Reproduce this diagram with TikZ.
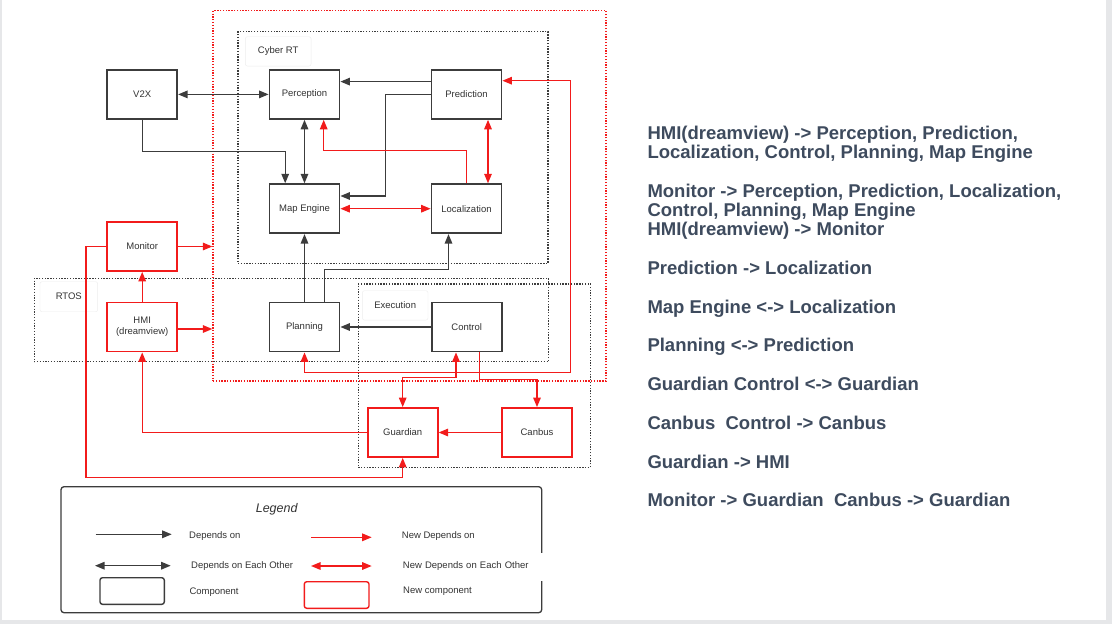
\documentclass[tikz,border=0pt]{standalone}
\usepackage{fontspec}
\setmainfont{Liberation Sans}
\usetikzlibrary{arrows.meta,calc}
\definecolor{lk}{HTML}{3C3C3C}
\definecolor{rd}{HTML}{F21B1B}
\definecolor{tx}{HTML}{333333}
\definecolor{sidec}{HTML}{3E4B5E}
\definecolor{bgg}{HTML}{E6E7E9}
\begin{document}
\begin{tikzpicture}[x=1pt,y=-1pt,
 comp/.style={draw=lk, line width=1.8pt, fill=white, minimum width=70pt, minimum height=49pt, inner sep=0pt, text=tx, font=\fontsize{9.5}{11.4}\selectfont, align=center},
 rcomp/.style={comp, draw=rd},
 arr/.style={draw=lk, line width=1.4pt, -{Triangle[length=9.5pt,width=7.5pt]}},
 barr/.style={draw=lk, line width=1.4pt, {Triangle[length=9.5pt,width=7.5pt]}-{Triangle[length=9.5pt,width=7.5pt]}},
 rarr/.style={arr, draw=rd},
 rbarr/.style={barr, draw=rd},
 kdot/.style={draw=lk, line width=1.2pt, dash pattern=on 1.3pt off 1.5pt, inner sep=0pt},
 rdot/.style={draw=rd, line width=1.3pt, dash pattern=on 1.3pt off 1.5pt, inner sep=0pt},
 tagbox/.style={draw=black!7, rounded corners=2pt, fill=white, text=tx, font=\fontsize{9.5}{11}\selectfont, inner sep=0pt},
 sidetext/.style={anchor=base west, text=sidec, font=\fontsize{18.5}{19}\selectfont\bfseries, inner sep=0pt},
 leg/.style={anchor=west, text=tx, font=\fontsize{9.5}{11}\selectfont, inner sep=0pt},
]
% background
\fill[bgg] (0,0) rectangle (1112,624);
\fill[white] (1.5,0) rectangle (1106,620);
\useasboundingbox (0,0) rectangle (1112,624);

% group boxes
\node[rdot, minimum width=393pt, minimum height=370.3pt] (core) at (409.5,195.85) {};
\node[kdot, minimum width=310pt, minimum height=231.6pt] (cyber) at (393,147.5) {};
\node[kdot, minimum width=514.4pt, minimum height=83.4pt] (rtos) at (291.3,320) {};
\node[kdot, minimum width=232.3pt, minimum height=183.3pt] (exec) at (474.35,375.65) {};

\node[tagbox, minimum width=65.7pt, minimum height=29.3pt] (tcyber) at (278.2,51.4) {Cyber RT};
\node[tagbox, minimum width=57.7pt, minimum height=30pt] (trtos) at (68.8,296.7) {RTOS};
\node[tagbox, minimum width=65.6pt, minimum height=29.3pt] (texec) at (395.2,305.4) {Execution};

% components
\node[comp] (V2X) at (142.2,94.4) {V2X};
\node[comp] (Perception) at (304.5,94.4) {Perception};
\node[comp] (Prediction) at (466.5,94.4) {Prediction};
\node[comp] (MapEngine) at (304.5,208.7) {Map Engine};
\node[comp] (Localization) at (466.5,208.7) {Localization};
\node[rcomp] (Monitor) at (142.2,246.5) {Monitor};
\node[rcomp] (HMI) at (142.2,327) {HMI\\(dreamview)};
\node[comp] (Planning) at (304.5,327) {Planning};
\node[comp] (Control) at (466.7,327) {Control};
\node[rcomp] (Guardian) at (402.7,432.5) {Guardian};
\node[rcomp] (Canbus) at (537,432.5) {Canbus};

% black connectors
\draw[barr] (V2X.east) -- (Perception.west);
\draw[arr] (V2X.south) |- (285.2,151.7) -- ([xshift=-19.3pt]MapEngine.north);
\draw[barr] (Perception.south) -- (MapEngine.north);
\draw[arr] ([yshift=12.8pt]Prediction.west) -- ([yshift=12.8pt]Perception.east);
\draw[arr] (Prediction.west) -| (385.3,196) -- ([yshift=12.7pt]MapEngine.east);
\draw[arr] (Planning.north) -- (MapEngine.south);
\draw[arr] ([xshift=20pt]Planning.north) |- (448.5,269.3) -- ([xshift=-18pt]Localization.south);
\draw[arr] (Control.west) -- (Planning.east);

% red connectors
\draw[rarr] (Localization.north) |- (323.7,150.7) -- ([xshift=19.2pt]Perception.south);
\draw[rbarr] ([xshift=21.5pt]Prediction.south) -- ([xshift=21.5pt]Localization.north);
\draw[rbarr] (MapEngine.east) -- (Localization.west);
\draw[rbarr] ([yshift=13.7pt]Prediction.east) -| (570.5,372.7) -| (Planning.south);
\draw[rbarr] ([xshift=-10.7pt]Control.south) |- (402.7,377.3) -- (Guardian.north);
\draw[rarr] ([xshift=13pt]Control.south) |- (537,379.5) -- (Canbus.north);
\draw[rarr] (Canbus.west) -- (Guardian.east);
\draw[rarr] (Guardian.west) -| (HMI.south);
\draw[rarr] (HMI.north) -- (Monitor.south);
\coordinate (h1) at ([yshift=-2pt]HMI.east);
\draw[rarr] (h1) -- (h1 -| core.west);
\draw[rarr] (Monitor.east) -- (Monitor.east -| core.west);
\draw[rarr] (Monitor.west) -| (86.1,477.3) -| (Guardian.south);

% legend
\draw[draw=lk, line width=1.3pt, rounded corners=3pt] (61,486.7) rectangle (541.7,612.7);
\node[text=tx, font=\fontsize{12.5}{14}\selectfont\itshape] (legt) at (276.7,509.3) {Legend};
\coordinate (la1) at (95.7,534.3); \coordinate (lb1) at (171.7,534.3);
\draw[arr] (la1) -- (lb1);
\node[leg] (ld1) at (189,536) {Depends on};
\coordinate (la2) at (311,537.3); \coordinate (lb2) at (371.7,537.3);
\draw[rarr] (la2) -- (lb2);
\node[leg] (ld2) at (401.7,536) {New Depends on};
\coordinate (la3) at (95,565.7); \coordinate (lb3) at (170.7,565.7);
\draw[barr] (la3) -- (lb3);
\node[leg] (ld3) at (191,566.5) {Depends on Each Other};
\coordinate (la4) at (311,566); \coordinate (lb4) at (371.7,566);
\draw[rbarr] (la4) -- (lb4);
\node[leg, fill=white, text width=140pt, align=left, inner xsep=2pt, minimum height=28pt] (ld4) at (400.7,566.5) {New Depends on Each Other};
\draw[draw=lk, line width=1.4pt, rounded corners=2.5pt] (100,577.7) rectangle (164.3,604.3);
\node[leg] (ld5) at (189.3,591.7) {Component};
\draw[draw=rd, line width=1.4pt, rounded corners=2.5pt] (304.3,581.7) rectangle (369,608.3);
\node[leg] (ld6) at (403,591.7) {New component};

% side text
\node[sidetext] (s1) at (647.3,139.9) {HMI(dreamview) -> Perception, Prediction,};
\node[sidetext] (s2) at (647.3,158.9) {Localization, Control, Planning, Map Engine};
\node[sidetext] (s3) at (647.3,197.6) {Monitor -> Perception, Prediction, Localization,};
\node[sidetext] (s4) at (647.3,216.6) {Control, Planning, Map Engine};
\node[sidetext] (s5) at (647.3,235.6) {HMI(dreamview) -> Monitor};
\node[sidetext] (s6) at (647.3,274.9) {Prediction -> Localization};
\node[sidetext] (s7) at (647.3,313.9) {Map Engine <-> Localization};
\node[sidetext] (s8) at (647.3,351.9) {Planning <-> Prediction};
\node[sidetext] (s9) at (647.3,390.9) {Guardian Control <-> Guardian};
\node[sidetext] (s10) at (647.3,429.9) {Canbus\ \ Control -> Canbus};
\node[sidetext] (s11) at (647.3,468.3) {Guardian -> HMI};
\node[sidetext] (s12) at (647.3,506.6) {Monitor -> Guardian\ \ Canbus -> Guardian};
\end{tikzpicture}
\end{document}
